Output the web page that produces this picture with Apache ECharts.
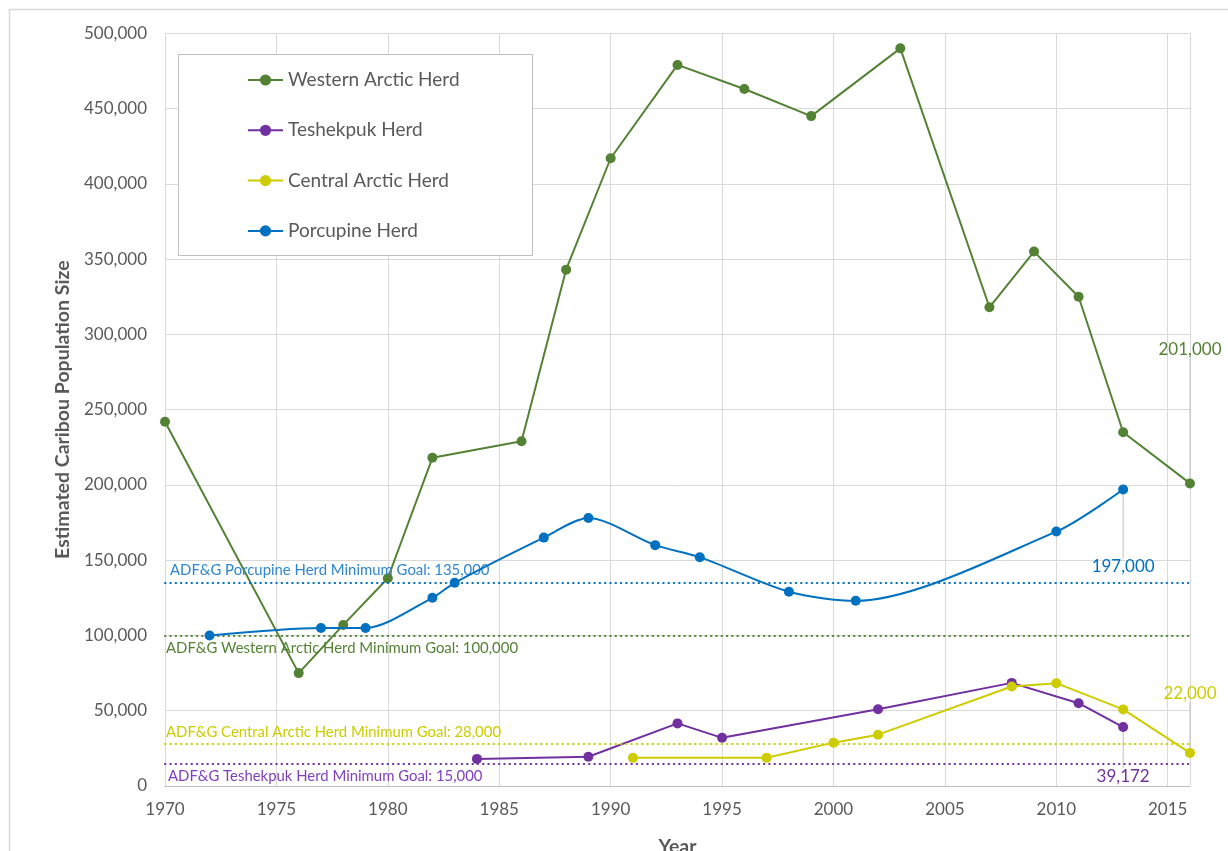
<!DOCTYPE html>
<html>
<head>
<meta charset="utf-8">
<script src="https://cdn.jsdelivr.net/npm/echarts@6/dist/echarts.min.js"></script>
<style>
html,body{margin:0;padding:0;background:#fff;overflow:hidden;}
#chart{width:1228px;height:851px;}
</style>
</head>
<body>
<div id="chart"></div>
<script>
// ---- data ----
const seriesNames = ['Western Arctic Herd', 'Teshekpuk Herd', 'Central Arctic Herd', 'Porcupine Herd'];

const wahYears  = [1970, 1976, 1978, 1980, 1982, 1986, 1988, 1990, 1993, 1996, 1999, 2003, 2007, 2009, 2011, 2013, 2016];
const wahValues = [242000, 75000, 107000, 138000, 218000, 229000, 343000, 417000, 479000, 463000, 445000, 490000, 318000, 355000, 325000, 235000, 201000];

const tchYears  = [1984, 1989, 1993, 1995, 2002, 2008, 2011, 2013];
const tchValues = [18000, 19400, 41600, 32000, 51000, 68500, 55000, 39172];

const cahYears  = [1991, 1997, 2000, 2002, 2008, 2010, 2013, 2016];
const cahValues = [18700, 18700, 28800, 34100, 66100, 68300, 50900, 22000];

const pchYears  = [1972, 1977, 1979, 1982, 1983, 1987, 1989, 1992, 1994, 1998, 2001, 2010, 2013];
const pchValues = [100000, 105000, 105000, 125000, 135000, 165000, 178000, 160000, 152000, 129000, 123000, 169000, 197000];

const goalValues = [100000, 15000, 28000, 135000];
const goalLabels = [
  'ADF&G Western Arctic Herd Minimum Goal: 100,000',
  'ADF&G Teshekpuk Herd Minimum Goal: 15,000',
  'ADF&G Central Arctic Herd Minimum Goal: 28,000',
  'ADF&G Porcupine Herd Minimum Goal: 135,000'
];

const xTicks = [1970, 1975, 1980, 1985, 1990, 1995, 2000, 2005, 2010, 2015];
const yTicks = [0, 50000, 100000, 150000, 200000, 250000, 300000, 350000, 400000, 450000, 500000];

// ---- styling ----
const FONT = 'Lato';
const colors = ['#548235', '#7030A0', '#CCCC00', '#0070C0'];
const goalLabelColors = ['#548235', '#7F3FBF', '#CCCC00', '#2E86D1'];
const goalLabelPos = ['insideStartBottom', 'insideStartBottom', 'insideStartTop', 'insideStartTop'];
const goalLabelDist = [[1, 5], [3, 5], [1, 4], [5, 5]];
const endLabelPos = ['top', 'bottom', 'top', 'bottom'];
const endLabelDy = [-115, 31, -41, 59];
const fmt = v => Number(v).toLocaleString('en-US');

const yearsList = [wahYears, tchYears, cahYears, pchYears];
const valuesList = [wahValues, tchValues, cahValues, pchValues];

const series = seriesNames.map((name, s) => {
  const ys = yearsList[s], vs = valuesList[s];
  const last = ys.length - 1;
  const data = ys.map((x, i) => {
    if (i === last) {
      return {
        value: [x, vs[i]],
        label: {
          show: true,
          position: endLabelPos[s],
          color: colors[s],
          fontFamily: FONT,
          fontSize: 17,
          formatter: p => fmt(p.value[1])
        },
        labelLine: { show: true, lineStyle: { color: '#bfbfbf', width: 1 } }
      };
    }
    return [x, vs[i]];
  });
  return {
    name: name,
    type: 'line',
    smooth: s === 3 ? 0.28 : false,
    symbol: 'circle',
    symbolSize: 10,
    showAllSymbol: true,
    color: colors[s],
    lineStyle: { color: colors[s], width: 2 },
    itemStyle: { color: colors[s] },
    emphasis: { disabled: true },
    animation: false,
    z: 3 + s,
    labelLayout: { dy: endLabelDy[s] },
    labelLine: { show: true, lineStyle: { color: '#bfbfbf', width: 1 } },
    data: data,
    markLine: {
      silent: true,
      symbol: 'none',
      animation: false,
      data: [{ yAxis: goalValues[s] }],
      lineStyle: { color: colors[s], type: [0.5, 4.8], width: 2, cap: 'round' },
      emphasis: { disabled: true },
      label: {
        show: true,
        position: goalLabelPos[s],
        distance: goalLabelDist[s],
        formatter: goalLabels[s],
        color: goalLabelColors[s],
        fontFamily: FONT,
        fontSize: 14.9
      }
    }
  };
});

const chart = echarts.init(document.getElementById('chart'), null, { renderer: 'canvas' });
chart.setOption({
  backgroundColor: '#ffffff',
  animation: false,
  textStyle: { fontFamily: FONT },
  grid: { left: 165, right: 38, top: 33.3, bottom: 65, containLabel: false, outerBoundsMode: 'none' },
  graphic: [
    {
      type: 'rect', left: 7, top: 7, silent: true, z: -10,
      shape: { width: 1300, height: 1000 },
      style: { fill: 'none', stroke: '#d9d9d9', lineWidth: 1.5 }
    },
    {
      type: 'rect', left: 178, top: 54, silent: true, z: 50,
      shape: { width: 354, height: 201 },
      style: { fill: '#ffffff', stroke: '#bfbfbf', lineWidth: 1 }
    }
  ],
  legend: {
    data: seriesNames,
    orient: 'vertical',
    left: 247,
    top: 70,
    z: 60,
    itemWidth: 35,
    itemHeight: 14,
    itemGap: 30.3,
    padding: 0,
    selectedMode: false,
    textStyle: { color: '#595959', fontFamily: FONT, fontSize: 19, lineHeight: 20, padding: [0, 0, 0, 0] }
  },
  xAxis: {
    type: 'value',
    min: 1970,
    max: 2016,
    interval: 5,
    name: 'Year',
    nameLocation: 'middle',
    nameGap: 51,
    nameTextStyle: { color: '#595959', fontFamily: FONT, fontSize: 19.5, fontWeight: 'bold' },
    axisLine: { show: true, lineStyle: { color: '#bfbfbf', width: 1 } },
    axisTick: { show: false },
    axisLabel: {
      color: '#595959', fontFamily: FONT, fontSize: 17, margin: 15,
      showMaxLabel: false,
      formatter: v => (xTicks.indexOf(v) >= 0 ? String(v) : '')
    },
    splitLine: { show: true, lineStyle: { color: '#d9d9d9', width: 1 } }
  },
  yAxis: {
    type: 'value',
    min: 0,
    max: 500000,
    interval: 50000,
    name: 'Estimated Caribou Population Size',
    nameLocation: 'middle',
    nameGap: 90,
    nameTextStyle: { color: '#595959', fontFamily: FONT, fontSize: 19.5, fontWeight: 'bold' },
    axisLine: { show: true, lineStyle: { color: '#d9d9d9', width: 1 } },
    axisTick: { show: false },
    axisLabel: {
      color: '#595959', fontFamily: FONT, fontSize: 17, margin: 18,
      formatter: v => (yTicks.indexOf(v) >= 0 ? fmt(v) : '')
    },
    splitLine: { show: true, lineStyle: { color: '#d9d9d9', width: 1 } }
  },
  series: series
});
</script>
</body>
</html>
